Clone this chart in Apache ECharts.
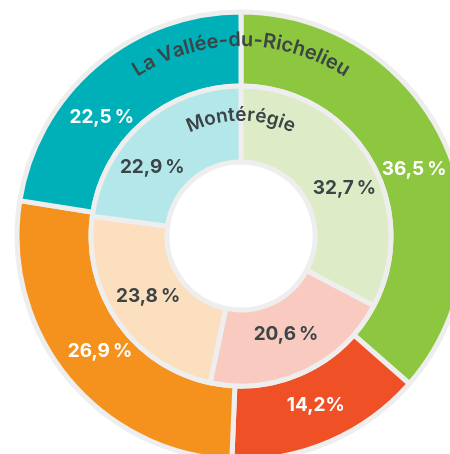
<!DOCTYPE html>
<html>
<head>
<meta charset="utf-8">
<script src="https://cdn.jsdelivr.net/npm/echarts@6/dist/echarts.min.js"></script>
<style>
  html, body { margin: 0; padding: 0; background: #fff; }
  #main { width: 450px; height: 454px; }
</style>
</head>
<body>
<div id="main"></div>
<script>
// outer ring: La Vallée-du-Richelieu, inner ring: Montérégie
const outerValues = [36.5, 14.2, 26.9, 22.5];
const outerLabels = ['36,5\u2009%', '14,2%', '26,9\u2009%', '22,5\u2009%'];
const outerColors = ['#8dc63f', '#ef5026', '#f5921e', '#00b0b8'];

const innerValues = [32.7, 20.6, 23.8, 22.9];
const innerLabels = ['32,7\u2009%', '20,6\u2009%', '23,8\u2009%', '22,9\u2009%'];
const innerColors = ['#ddecc6', '#f9cbc0', '#fcdfbf', '#b4e7e9'];

const outerTitle = 'La Vallée-du-Richelieu';
const innerTitle = 'Montérégie';

// small nudges so labels sit where the original put them
const outerLabelShift = [[0, 12], [0, -5], [6, -5], [-16, 26]];
const innerLabelShift = [[5, 12], [-4, -6], [1, -6], [-13, 18]];

const CX = 241, CY = 236;
const FONT_FAMILY = 'Inter, "Open Sans", sans-serif';

// letters placed one by one along an arc above the center
function arcText(text, radius, font, spacing, color, shadow) {
  const ctx = document.createElement('canvas').getContext('2d');
  ctx.font = font;
  const widths = text.split('').map(ch => ctx.measureText(ch).width + spacing);
  const total = widths.reduce((a, b) => a + b, 0);
  let acc = 0;
  const start = Math.PI / 2 + total / (2 * radius);
  return text.split('').map((ch, i) => {
    const theta = start - (acc + widths[i] / 2) / radius;
    acc += widths[i];
    return {
      type: 'text',
      x: CX + radius * Math.cos(theta),
      y: CY - radius * Math.sin(theta),
      rotation: theta - Math.PI / 2,
      z: 100,
      style: {
        text: ch,
        font: font,
        fill: color,
        align: 'center',
        verticalAlign: 'middle',
        shadowColor: shadow || 'transparent',
        shadowBlur: shadow ? 8 : 0
      }
    };
  });
}

function ringData(values, colors, shifts) {
  return values.map((v, i) => ({
    value: v,
    itemStyle: { color: colors[i] },
    label: { offset: shifts[i] }
  }));
}

const chart = echarts.init(document.getElementById('main'));

const option = {
  animation: false,
  graphic: [].concat(
    arcText(outerTitle, 196, '600 20px ' + FONT_FAMILY, 0.3, '#3b4446', 'rgba(255,255,255,0.6)'),
    arcText(innerTitle, 121, '600 19px ' + FONT_FAMILY, 0.6, '#3b4446', null)
  ),
  series: [
    {
      type: 'pie',
      center: [CX, CY],
      radius: [150, 224],
      startAngle: 90,
      silent: true,
      itemStyle: { borderColor: '#eeeeee', borderWidth: 5 },
      label: {
        position: 'inside',
        color: '#ffffff',
        fontFamily: FONT_FAMILY,
        fontWeight: 'bold',
        fontSize: 19,
        formatter: p => outerLabels[p.dataIndex]
      },
      labelLine: { show: false },
      data: ringData(outerValues, outerColors, outerLabelShift)
    },
    {
      type: 'pie',
      center: [CX, CY],
      radius: [74, 150],
      startAngle: 90,
      silent: true,
      itemStyle: { borderColor: '#eeeeee', borderWidth: 5 },
      label: {
        position: 'inside',
        color: '#3b4446',
        fontFamily: FONT_FAMILY,
        fontWeight: 'bold',
        fontSize: 19,
        formatter: p => innerLabels[p.dataIndex]
      },
      labelLine: { show: false },
      data: ringData(innerValues, innerColors, innerLabelShift)
    }
  ]
};

chart.setOption(option);
</script>
</body>
</html>
